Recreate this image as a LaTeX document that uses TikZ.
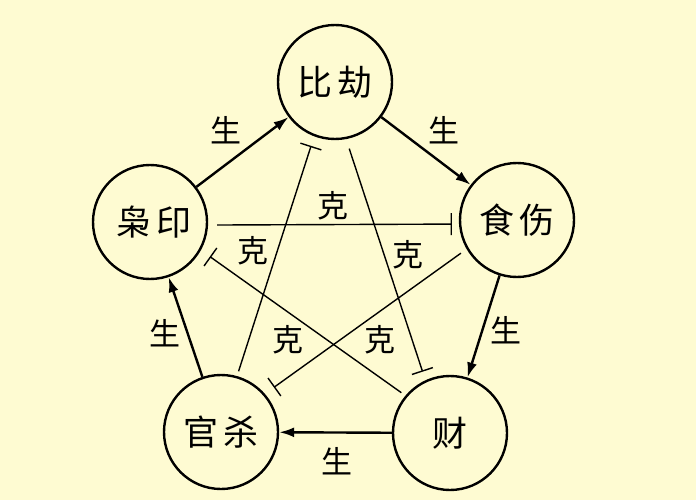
\documentclass[tikz,border=0pt]{standalone}
\usepackage{fontspec}
\newfontfamily\cjk{Noto Sans CJK SC}
\usetikzlibrary{arrows.meta}
\definecolor{paper}{RGB}{254,251,210}
\begin{document}
\begin{tikzpicture}[x=1pt,y=-1pt,
    elem/.style={circle,draw,line width=2.4pt,minimum size=114pt,inner sep=0pt,
      font=\cjk\fontsize{35}{35}\selectfont},
    sheng/.style={line width=2.4pt,-{Latex[length=15pt,width=10pt]}},
    ke/.style={line width=1.4pt,-{Bar[width=22pt,line width=1.4pt]}},
    lbl/.style={font=\cjk\fontsize{31}{31}\selectfont}]
  \fill[paper] (0,0) rectangle (696,500);
  % the five elements
  \node[elem] (bi) at (335,82) {比\hspace{6pt}劫};
  \node[elem] (shi) at (517,220) {食\hspace{6pt}伤};
  \node[elem] (cai) at (450,433) {财};
  \node[elem] (guan) at (221,432) {官\hspace{6pt}杀};
  \node[elem] (xiao) at (150,222) {\hspace{8pt}枭\hspace{6pt}印};
  % sheng cycle
  \foreach \a/\b in {xiao/bi,bi/shi,shi/cai,cai/guan,guan/xiao}
    \draw[sheng] (\a) -- (\b);
  \foreach \p/\n in {{(226,130)}/s1,{(444,130)}/s2,{(506,330)}/s3,{(337,461)}/s4,{(165,333)}/s5}
    \node[lbl] (\n) at \p {生};
  % ke cycle
  \draw[ke,shorten <=9pt,shorten >=7pt] (xiao.-3) -- (shi.184);
  \draw[ke,shorten <=7pt,shorten >=11pt] (shi.210) -- (guan.41);
  \draw[ke,shorten <=5pt,shorten >=10pt] (guan.74) -- (bi.249);
  \draw[ke,shorten <=10pt,shorten >=9pt] (bi.281) -- (cai.115);
  \draw[ke,shorten <=5pt,shorten >=11pt] (cai.140) -- (xiao.331);
  \foreach \p/\n in {{(333,206)}/k1,{(253,251)}/k2,{(408,255)}/k3,{(288,340)}/k4,{(380,340)}/k5}
    \node[lbl] (\n) at \p {克};
\end{tikzpicture}
\end{document}
